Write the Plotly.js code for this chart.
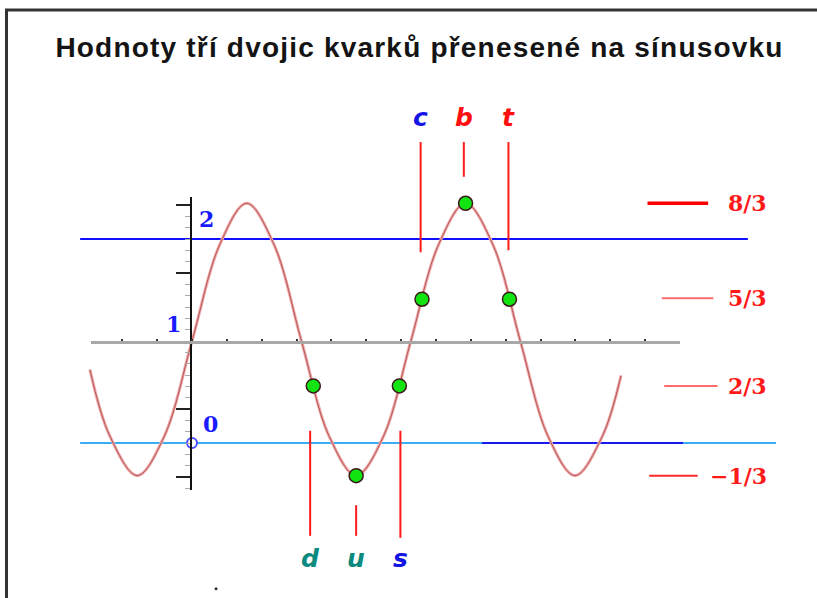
<!DOCTYPE html>
<html>
<head>
<meta charset="utf-8">
<script src="https://cdn.plot.ly/plotly-3.0.1.min.js"></script>
<style>
  body { margin: 0; background: #fff; }
  #chart { width: 817px; height: 598px; }
  .gtitle { letter-spacing: 1.2px; }
</style>
</head>
<body>
<div id="chart"></div>
<script>
// x is the phase in radians (0 at the vertical axis), y is the value on the
// vertical axis (0 = light blue line, 1 = grey axis, 2 = blue line)

// sinusoid
var curveX = [-2.93, -2.36, -1.57, -0.79, 0, 0.79, 1.57, 2.36, 3.14, 3.93, 4.71,
  5.50, 6.28, 7.07, 7.85, 8.64, 9.42, 10.21, 10.99, 11.78, 12.31];
var curveY = [0.72, 0.07, -0.32, 0.07, 1.00, 1.94, 2.35, 1.94, 1.00, 0.07, -0.32,
  0.07, 1.00, 1.94, 2.35, 1.94, 1.00, 0.07, -0.32, 0.07, 0.66];

// the six quarks on the curve
var quarks = ["d", "u", "s", "c", "b", "t"];
var quarkX = [3.48, 4.71, 5.95, 6.60, 7.85, 9.11];
var quarkY = [0.56, -0.32, 0.56, 1.41, 2.35, 1.41];

// red marker lines above / below the quarks
var quarkLineX = [3.39, 4.71, 5.98, 6.56, 7.80, 9.08];
var quarkLineTop = [0.12, -0.61, 0.12, 2.95, 2.95, 2.95];
var quarkLineBottom = [-0.91, -0.91, -0.93, 1.87, 2.61, 1.89];
var quarkLabelY = [-1.13, -1.13, -1.13, 3.19, 3.19, 3.19];

// levels on the right
var levelText = ["8/3", "5/3", "2/3", "\u22121/3"];
var levelY = [2.35, 1.42, 0.56, -0.32];
var levelLineStart = [13.07, 13.48, 13.55, 13.12];
var levelLineEnd = [14.81, 14.96, 15.08, 14.51];

// long horizontal lines
var blueLineX = [-3.21, 15.95];
var blueLineY = [2, 2];
var zeroLineX = [-3.21, 16.76];
var zeroLineY = [0, 0];
var zeroDarkX = [8.32, 14.09];

// vertical axis ticks
var axisTicks = [7 / 3, 5 / 3, 1 / 3, -1 / 3];

// pixel mapping of the picture
var W = 817, H = 598;
var originX = 192, pxPerX = 34.85;
var originY = 443, pxPerY = 102;

function xAt(px) { return (px - originX) / pxPerX; }
function yAt(py) { return (originY - py) / pxPerY; }

var quarkColor = { d: "#0b8a80", u: "#0b8a80", s: "#1414e6", c: "#1414e6", b: "#ff1010", t: "#ff1010" };
var levelColor = ["#ff0000", "#ff6c6c", "#ff6c6c", "#ff2a2a"];
var levelWidth = [3.5, 2, 2, 2];

var traces = [];

traces.push({
  x: blueLineX, y: blueLineY, mode: "lines", hoverinfo: "skip",
  line: { color: "#1010ff", width: 2 }
});
traces.push({
  x: zeroLineX, y: zeroLineY, mode: "lines", hoverinfo: "skip",
  line: { color: "#3aaef5", width: 2 }
});
traces.push({
  x: zeroDarkX, y: zeroLineY, mode: "lines", hoverinfo: "skip",
  line: { color: "#1a1af0", width: 2 }
});

// red marker lines
var segX = [], segY = [];
for (var i = 0; i < quarks.length; i++) {
  segX.push(quarkLineX[i], quarkLineX[i], null);
  segY.push(quarkLineTop[i], quarkLineBottom[i], null);
}
traces.push({
  x: segX, y: segY, mode: "lines", hoverinfo: "skip",
  line: { color: "#ff1a1a", width: 2 }
});

// the sinusoid, pink halo with a darker core
traces.push({
  x: curveX, y: curveY, mode: "lines", hoverinfo: "skip",
  line: { color: "#eea6a6", width: 3, shape: "spline", smoothing: 1 }
});
traces.push({
  x: curveX, y: curveY, mode: "lines", hoverinfo: "skip",
  line: { color: "#b65858", width: 1, shape: "spline", smoothing: 1 }
});

traces.push({
  x: quarkX, y: quarkY, mode: "markers", text: quarks, hoverinfo: "text",
  marker: { color: "#12e412", size: 14, line: { color: "#3a1a1a", width: 1.5 } }
});

// short level lines on the right
for (var j = 0; j < levelY.length; j++) {
  traces.push({
    x: [levelLineStart[j], levelLineEnd[j]], y: [levelY[j], levelY[j]],
    mode: "lines", hoverinfo: "skip",
    line: { color: levelColor[j], width: levelWidth[j] }
  });
}

// stray dot at the bottom
traces.push({
  x: [0.69], y: [-1.43], mode: "markers", hoverinfo: "skip",
  marker: { color: "#333", size: 3 }
});

// origin marker on the vertical axis
traces.push({
  x: [0], y: [0], xaxis: "x2", yaxis: "y2", mode: "markers", hoverinfo: "skip",
  cliponaxis: false,
  marker: { color: "#fff", size: 10, line: { color: "#4d4dff", width: 2 } }
});
// keeps the grey axis subplot alive
traces.push({ x: [], y: [], xaxis: "x3", yaxis: "y3", mode: "lines", hoverinfo: "skip" });

var annotations = [];
for (var k = 0; k < quarks.length; k++) {
  annotations.push({
    x: quarkLineX[k], y: quarkLabelY[k], xref: "x", yref: "y",
    text: quarks[k], showarrow: false,
    font: { family: "DejaVu Sans", size: 25, style: "italic", weight: "bold", color: quarkColor[quarks[k]] }
  });
}
for (var m = 0; m < levelText.length; m++) {
  annotations.push({
    x: xAt(769), y: levelY[m], xref: "x", yref: "y", xanchor: "right",
    text: levelText[m], showarrow: false,
    font: { family: "DejaVu Serif", size: 22, weight: "bold", color: "#ff1a1a" }
  });
}
var axisLabels = [["2", 206.4, 218.6], ["1", 173.3, 323.6], ["0", 210.5, 423.6]];
axisLabels.forEach(function (a) {
  annotations.push({
    x: xAt(a[1]), y: yAt(a[2]), xref: "x", yref: "y",
    text: a[0], showarrow: false,
    font: { family: "DejaVu Serif", size: 22, weight: "bold", color: "#1a1aff" }
  });
});

var axTop = 197, axBottom = 490;
var greyLeft = 91, greyRight = 680, greyY = 341;

var layout = {
  width: W,
  height: H,
  margin: { l: 0, r: 0, t: 0, b: 0 },
  paper_bgcolor: "#fff",
  plot_bgcolor: "rgba(0,0,0,0)",
  showlegend: false,
  title: {
    text: "Hodnoty tří dvojic kvarků přenesené na sínusovku",
    x: 419.5 / W, xanchor: "center",
    y: 1 - 47 / H, yanchor: "middle",
    font: { family: "Liberation Sans", size: 28, weight: "bold", color: "#141414" }
  },
  xaxis: { visible: false, domain: [0, 1], range: [xAt(0), xAt(W)], fixedrange: true },
  yaxis: { visible: false, domain: [0, 1], range: [yAt(H), yAt(0)], fixedrange: true },
  // vertical axis with its ticks
  xaxis2: {
    visible: false, anchor: "y2", range: [0, 1],
    domain: [originX / W, (originX + 40) / W]
  },
  yaxis2: {
    anchor: "x2", side: "left",
    domain: [1 - axBottom / H, 1 - axTop / H],
    range: [yAt(axBottom), yAt(axTop)],
    showline: true, linecolor: "#111", linewidth: 2,
    showgrid: false, zeroline: false, showticklabels: false,
    ticks: "outside", ticklen: 14, tickwidth: 2, tickcolor: "#222",
    tickmode: "array", tickvals: axisTicks,
    minor: { tickmode: "linear", tick0: 0, dtick: 1 / 9, ticks: "outside", ticklen: 5, tickwidth: 1, tickcolor: "#aaa", showgrid: false }
  },
  // grey horizontal axis
  xaxis3: {
    anchor: "y3", side: "bottom",
    domain: [greyLeft / W, greyRight / W],
    range: [xAt(greyLeft), xAt(greyRight)],
    showline: true, linecolor: "#a8a8a8", linewidth: 3,
    showgrid: false, zeroline: false, showticklabels: false,
    ticks: "inside", ticklen: 2, tickwidth: 2, tickcolor: "#333",
    tickmode: "linear", tick0: 0, dtick: 1
  },
  yaxis3: {
    visible: false, anchor: "x3", range: [0, 1],
    domain: [1 - greyY / H, 1 - (greyY - 10) / H]
  },
  annotations: annotations,
  shapes: [
    { type: "line", xref: "paper", yref: "paper", x0: 5 / W, x1: 1, y0: 1 - 10 / H, y1: 1 - 10 / H, line: { color: "#333", width: 3 } },
    { type: "line", xref: "paper", yref: "paper", x0: 6.5 / W, x1: 6.5 / W, y0: 0, y1: 1 - 10 / H, line: { color: "#333", width: 3 } }
  ]
};

Plotly.newPlot("chart", traces, layout, { staticPlot: true });
</script>
</body>
</html>
